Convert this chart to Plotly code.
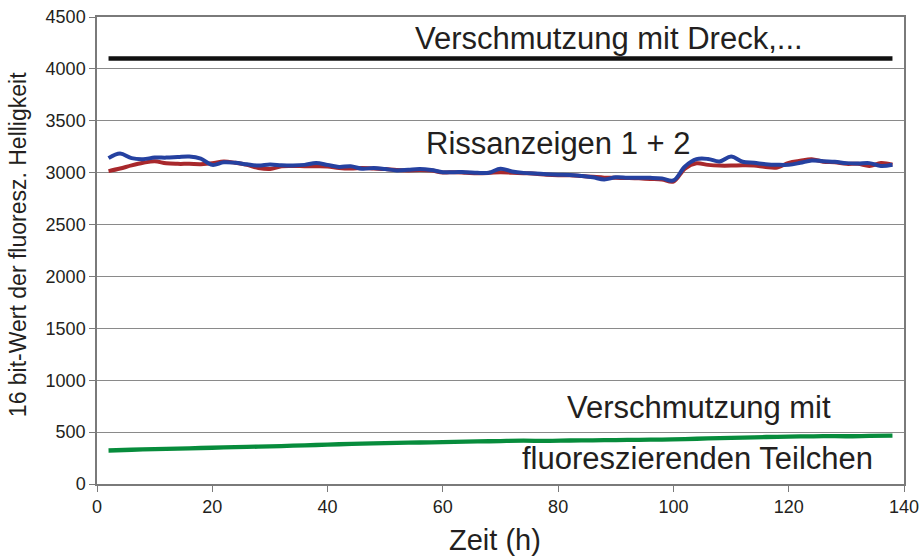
import plotly.graph_objects as go

hours = list(range(2, 140, 2))

riss1 = [3015, 3040, 3070, 3095, 3110, 3090, 3085, 3085, 3082, 3090,
         3108, 3095, 3075, 3045, 3035, 3062, 3065, 3063, 3062, 3060,
         3045, 3040, 3045, 3040, 3035, 3025, 3022, 3025, 3020, 3002,
         3005, 3000, 2995, 2998, 3005, 3000, 2995, 2990, 2980, 2975,
         2975, 2968, 2960, 2952, 2950, 2948, 2945, 2940, 2935, 2915,
         3040, 3090, 3075, 3068, 3068, 3072, 3070, 3055, 3050, 3095,
         3115, 3130, 3105, 3100, 3085, 3085, 3065, 3092, 3077]

riss2 = [3140, 3185, 3140, 3130, 3145, 3145, 3150, 3155, 3135, 3075,
         3100, 3095, 3080, 3068, 3078, 3072, 3070, 3075, 3092, 3075,
         3055, 3062, 3038, 3045, 3035, 3022, 3028, 3035, 3025, 3005,
         3005, 3005, 2998, 3000, 3038, 3012, 2998, 2992, 2985, 2980,
         2978, 2968, 2955, 2935, 2955, 2952, 2950, 2950, 2945, 2925,
         3060, 3130, 3132, 3108, 3155, 3105, 3095, 3082, 3076, 3076,
         3095, 3118, 3110, 3105, 3092, 3088, 3092, 3065, 3077]

green_hours = list(range(2, 140, 4))
fluor = [323, 330, 336, 341, 347, 352, 357, 363, 369, 376,
         383, 390, 394, 398, 402, 406, 410, 414, 417, 416,
         419, 421, 423, 426, 428, 433, 439, 445, 450, 455,
         458, 462, 460, 463, 466]

dreck_hours = [2, 138]
dreck = [4100, 4100]

x_ticks = [0, 20, 40, 60, 80, 100, 120, 140]
y_ticks = [0, 500, 1000, 1500, 2000, 2500, 3000, 3500, 4000, 4500]

FONT = "Liberation Sans"
TXT = "#231f20"

fig = go.Figure()
fig.add_trace(go.Scatter(x=dreck_hours, y=dreck, mode="lines",
                         line=dict(color="#111111", width=4.5), showlegend=False))
fig.add_trace(go.Scatter(x=hours, y=riss1, mode="lines",
                         line=dict(color="#a8282c", width=4, shape="spline"), showlegend=False))
fig.add_trace(go.Scatter(x=hours, y=riss2, mode="lines",
                         line=dict(color="#2541a0", width=4, shape="spline"), showlegend=False))
fig.add_trace(go.Scatter(x=green_hours, y=fluor, mode="lines",
                         line=dict(color="#078c3c", width=4.3, shape="spline"), showlegend=False))

annots = [
    ("Verschmutzung mit Dreck,...", 88.8, 4290),
    ("Rissanzeigen 1 + 2", 80.0, 3285),
    ("Verschmutzung mit", 104.4, 735),
    ("fluoreszierenden Teilchen", 104.2, 245),
]
for t, ax, ay in annots:
    fig.add_annotation(x=ax, y=ay, text=t, showarrow=False, xanchor="center",
                       yanchor="middle", font=dict(family=FONT, size=31, color=TXT))

# axis titles
fig.add_annotation(xref="paper", yref="paper", x=0.493, y=-0.119, text="Zeit (h)",
                   showarrow=False, xanchor="center", yanchor="middle",
                   font=dict(family=FONT, size=29, color=TXT))
fig.add_annotation(xref="paper", yref="paper", x=-0.097, y=0.513,
                   text="16 bit-Wert der fluoresz. Helligkeit", textangle=-90,
                   showarrow=False, xanchor="center", yanchor="middle",
                   font=dict(family=FONT, size=23, color=TXT))

fig.update_layout(
    width=921, height=560,
    margin=dict(l=97, r=17, t=17, b=76, autoexpand=False),
    plot_bgcolor="white", paper_bgcolor="white",
    font=dict(family=FONT, color=TXT),
)
fig.update_xaxes(range=[0, 140], tickvals=x_ticks, ticktext=[str(v) for v in x_ticks],
                 automargin=False,
                 showgrid=False, zeroline=False, showline=True, linecolor="#7a7a7a",
                 linewidth=1.5, mirror=True, ticks="outside", ticklen=6, tickcolor="#7a7a7a",
                 tickfont=dict(family=FONT, size=18, color=TXT))
fig.update_yaxes(range=[0, 4500], tickvals=y_ticks, ticktext=[str(v) for v in y_ticks],
                 automargin=False,
                 showgrid=True, gridcolor="#8a8a8a", gridwidth=1.3, zeroline=False,
                 showline=True, linecolor="#7a7a7a", linewidth=1.5, mirror=True,
                 ticks="outside", ticklen=6, tickcolor="#7a7a7a",
                 tickfont=dict(family=FONT, size=18, color=TXT))

fig.write_html("out.html", config={"displayModeBar": False},
               post_script="document.body.style.margin='0';")
